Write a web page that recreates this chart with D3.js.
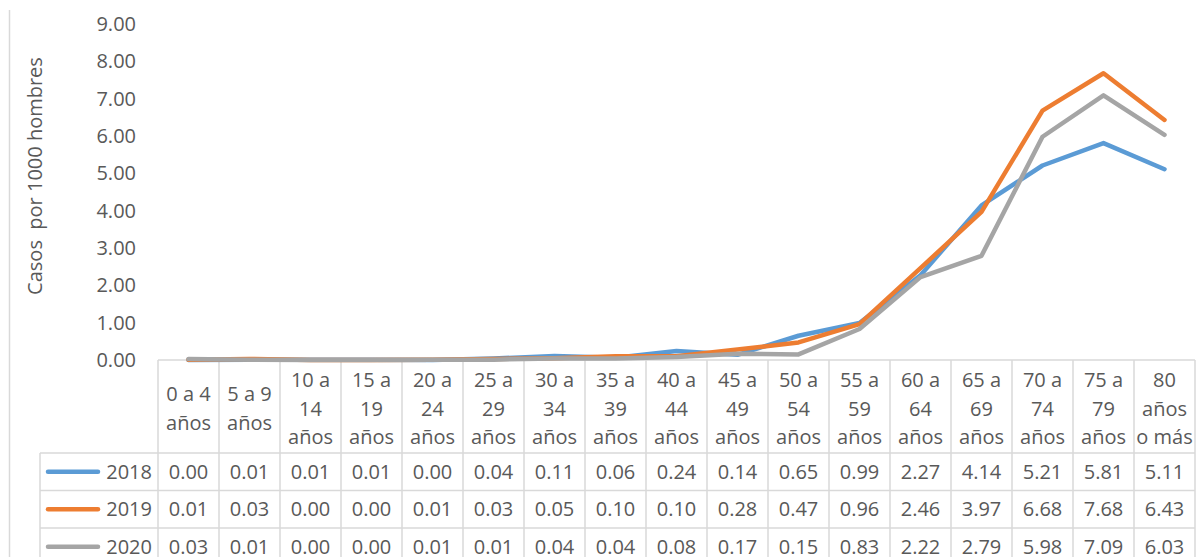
<!DOCTYPE html>
<html>
<head>
<meta charset="utf-8">
<script src="https://cdn.jsdelivr.net/npm/d3@7"></script>
<style>
  body { margin:0; background:#fff; }
  svg text { font-family:"Open Sans", sans-serif; fill:#595959; }
</style>
</head>
<body>
<div class="main__area"></div>
<script>
const categories=[
    ["0 a 4","años"], ["5 a 9","años"], ["10 a","14","años"], ["15 a","19","años"],
    ["20 a","24","años"], ["25 a","29","años"], ["30 a","34","años"], ["35 a","39","años"],
    ["40 a","44","años"], ["45 a","49","años"], ["50 a","54","años"], ["55 a","59","años"],
    ["60 a","64","años"], ["65 a","69","años"], ["70 a","74","años"], ["75 a","79","años"],
    ["80","años","o más"]
];
const years=["2018","2019","2020"];
const values2018=[0.00,0.01,0.01,0.01,0.00,0.04,0.11,0.06,0.24,0.14,0.65,0.99,2.27,4.14,5.21,5.81,5.11];
const values2019=[0.01,0.03,0.00,0.00,0.01,0.03,0.05,0.10,0.10,0.28,0.47,0.96,2.46,3.97,6.68,7.68,6.43];
const values2020=[0.03,0.01,0.00,0.00,0.01,0.01,0.04,0.04,0.08,0.17,0.15,0.83,2.22,2.79,5.98,7.09,6.03];
const yTicks=[0,1,2,3,4,5,6,7,8,9];
const colors=["#5B9BD5","#ED7D31","#A5A5A5"];
const yTitle="Casos  por 1000 hombres";

const series=[values2018,values2019,values2020];

const width=1201;
const height=557;
const plot={ left:158, right:1195, top:24, bottom:360 };
const headerBottom=453;
const rowH=37.5;
const legendLeft=40;
const fontSize=20;
const gridColor="#d9d9d9";

const svgTag=d3.select(".main__area").append("svg")
    .attr("width", width)
    .attr("height", height);

const x=d3.scaleBand()
    .domain(d3.range(categories.length))
    .range([plot.left, plot.right]);
const y=d3.scaleLinear()
    .domain([0, 9])
    .range([plot.bottom, plot.top]);

// borde del gráfico (solo se ve el lado izquierdo)
svgTag.append("line")
    .attr("x1", 9.5).attr("x2", 9.5)
    .attr("y1", 10).attr("y2", height)
    .attr("stroke", gridColor).attr("stroke-width", 1.5);

// etiquetas del eje y
const yAxis=svgTag.append("g")
    .attr("transform", `translate(${plot.left}, 0)`)
    .call(d3.axisLeft(y).tickValues(yTicks).tickFormat(d3.format(".2f")).tickSize(0).tickPadding(22));
yAxis.select(".domain").remove();
yAxis.selectAll("text")
    .attr("font-size", fontSize)
    .attr("font-family", "Open Sans, sans-serif")
    .attr("fill", "#595959");

svgTag.append("text")
    .attr("transform", `translate(42, ${(plot.top+plot.bottom)/2 - 16}) rotate(-90)`)
    .attr("text-anchor", "middle")
    .attr("font-size", fontSize)
    .style("white-space", "pre")
    .text(yTitle);

// tabla
const grid=svgTag.append("g")
    .attr("stroke", gridColor).attr("stroke-width", 1.5);
const tableBottom=headerBottom+rowH*years.length;
grid.append("line")
    .attr("x1", plot.left).attr("x2", plot.right)
    .attr("y1", plot.bottom).attr("y2", plot.bottom);
grid.append("line")
    .attr("x1", legendLeft).attr("x2", plot.right)
    .attr("y1", headerBottom).attr("y2", headerBottom);
years.forEach((yr, i)=>{
    const yy=headerBottom+rowH*(i+1);
    grid.append("line")
        .attr("x1", legendLeft).attr("x2", plot.right)
        .attr("y1", yy).attr("y2", yy);
});
grid.append("line")
    .attr("x1", legendLeft).attr("x2", legendLeft)
    .attr("y1", headerBottom).attr("y2", tableBottom);
d3.range(categories.length+1).forEach(i=>{
    const xx=plot.left + x.bandwidth()*i;
    grid.append("line")
        .attr("x1", xx).attr("x2", xx)
        .attr("y1", plot.bottom).attr("y2", tableBottom);
});

// encabezados de categoría
const lineGap=28.5;
const headerMid=(plot.bottom+headerBottom)/2 + 2;
categories.forEach((lines, i)=>{
    const cx=x(i)+x.bandwidth()/2;
    const t=svgTag.append("text")
        .attr("text-anchor", "middle")
        .attr("font-size", fontSize);
    lines.forEach((ln, k)=>{
        t.append("tspan")
            .attr("x", cx)
            .attr("y", headerMid + (k-(lines.length-1)/2)*lineGap)
            .attr("dy", "0.35em")
            .text(ln);
    });
});

// filas: leyenda + valores
series.forEach((arr, s)=>{
    const cy=headerBottom+rowH*s+rowH/2;
    svgTag.append("line")
        .attr("x1", 48).attr("x2", 98)
        .attr("y1", cy).attr("y2", cy)
        .attr("stroke", colors[s]).attr("stroke-width", 4.5)
        .attr("stroke-linecap", "round");
    svgTag.append("text")
        .attr("x", 152).attr("y", cy).attr("dy", "0.35em")
        .attr("text-anchor", "end")
        .attr("font-size", fontSize)
        .text(years[s]);
    arr.forEach((v, i)=>{
        svgTag.append("text")
            .attr("x", x(i)+x.bandwidth()/2).attr("y", cy).attr("dy", "0.35em")
            .attr("text-anchor", "middle")
            .attr("font-size", fontSize)
            .text(d3.format(".2f")(v));
    });
});

// líneas
const line=d3.line()
    .x((d, i)=>x(i)+x.bandwidth()/2)
    .y(d=>y(d));
series.forEach((arr, s)=>{
    svgTag.append("path")
        .datum(arr)
        .attr("d", line)
        .attr("fill", "none")
        .attr("stroke", colors[s])
        .attr("stroke-width", 4.5)
        .attr("stroke-linejoin", "round")
        .attr("stroke-linecap", "round");
});
</script>
</body>
</html>
